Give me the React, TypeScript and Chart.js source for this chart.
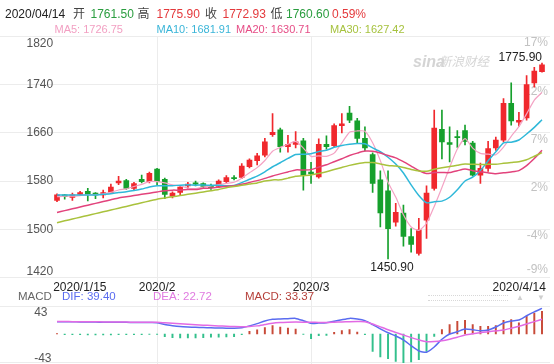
import React, { useEffect, useRef } from 'react';
import { Chart, registerables } from 'chart.js';

Chart.register(...registerables);

// ---- K-line data (COMEX gold, 2020/1/15 – 2020/4/14), index = trading day ----
const opens = [1548,1557,1553,1558,1563,1560,1557,1561,1577,1581,
  1568,1583,1579,1600,1583,1555,1561,1572,1577,1576,
  1573,1571,1579,1586,1586,1604,1614,1623,1657,1665,
  1637,1641,1647,1595,1587,1641,1639,1672,1693,1680,
  1651,1624,1582,1564,1512,1527,1488,1460,1515,1568,
  1666,1644,1654,1664,1643,1590,1601,1635,1648,1709,
  1678,1685,1743,1761.5];
const highs = [1559,1558,1560,1563,1568,1561,1565,1575,1588,1583,
  1578,1590,1595,1601,1585,1562,1572,1578,1580,1577,
  1575,1582,1589,1589,1609,1617,1626,1651,1692,1668,
  1656,1662,1651,1611,1650,1655,1675,1692,1704,1684,
  1670,1627,1597,1597,1543,1540,1501,1518,1572,1698,
  1698,1670,1664,1673,1646,1610,1646,1653,1717,1743,
  1694,1755,1769,1775.9];
const lows = [1546,1550,1548,1556,1547,1551,1552,1559,1574,1566,
  1565,1577,1577,1574,1551,1552,1557,1568,1572,1569,
  1566,1569,1577,1582,1584,1602,1607,1620,1654,1628,
  1628,1635,1565,1576,1585,1633,1637,1660,1677,1643,
  1630,1561,1504,1450.9,1505,1472,1462,1457,1485,1565,
  1617,1612,1636,1640,1588,1576,1596,1631,1645,1673,
  1671,1681,1736,1760.6];
const closes = [1557,1554,1557,1561,1558,1557,1561,1570,1580,1568,
  1576,1579,1593,1579,1558,1560,1570,1575,1575,1571,
  1569,1580,1586,1584,1605,1615,1622,1645,1661,1637,
  1641,1645,1590,1592,1641,1637,1672,1675,1681,1651,
  1635,1576,1527,1501,1528,1488,1475,1499,1560,1668,
  1645,1641,1652,1646,1590,1601,1634,1648,1709,1680,
  1681,1740,1762.5,1772.93];

// moving-average values before the full window is on screen
const ma5Head = [1554, 1555, 1555, 1556];
const ma10Head = [1557, 1557, 1557, 1557, 1557, 1557, 1558, 1559, 1561];
const ma20Head = [1528, 1531, 1534, 1537, 1540, 1543, 1546, 1549, 1552, 1554,
  1556, 1558, 1560, 1562, 1564, 1565, 1565, 1566, 1566];
const ma30Head = [1511, 1514, 1517, 1520, 1523, 1526, 1529, 1532, 1535, 1538,
  1541, 1544, 1547, 1550, 1552, 1554, 1556, 1558, 1560, 1562,
  1564, 1566, 1569, 1571, 1573, 1575, 1577, 1580, 1582];

// MACD panel
const dif = [18.9,18.8,18.7,18.6,18.4,18.3,18.2,18.1,18.0,17.9,
  17.8,17.7,17.6,17.4,14.5,12.8,11.5,10.8,10.3,10.0,
  9.6,9.2,8.9,8.7,9.6,12.5,16,20,22.5,23,
  23.5,24,20.5,16.4,16.8,17.4,19.5,22,24,23,
  20.5,14.5,8,2,-3,-9,-18,-26,-28,-20,
  -8,0,3.5,7.6,6.5,5,6,10.7,17,20,
  21.5,28,34,39.4];
const dea = [19.2,19.1,19.0,18.9,18.8,18.7,18.6,18.5,18.4,18.3,
  18.2,18.1,18.0,17.9,17.2,16.5,15.8,15.0,14.2,13.6,
  13.0,12.4,11.9,11.4,11.2,11.5,12.5,14.5,16.5,17.5,
  18,18.3,18.2,18,17.8,17.8,18.2,18.6,19,19.2,
  19,15.5,11,6.5,2.5,-1.5,-5.5,-9,-11.8,-11.5,
  -10.3,-8,-5,-1.5,0.5,2,3.6,4.8,6,9,
  12,15.5,19,22.72];
const macdBars = [0.5,-1,-1,-1.2,-1.5,-1.5,-1.5,-1.5,-1.2,-1.2,
  -1,-1,-0.8,-0.8,-4,-5.5,-6,-6,-6,-5.5,
  -5,-5,-4.5,-4,-1,4,6.5,10,12.8,10.8,
  9.2,7.7,-0.5,-7.2,-2.6,-2,2.6,5.1,6.7,3,
  -1,-26.6,-35,-38,-42,-44,-43,-39.5,-26.6,-3.6,
  6.7,14.3,19.5,21,14.3,11.8,11.8,12.8,21,22,
  17,27,32,35];

// ticks
const priceTicks = [1420, 1500, 1580, 1660, 1740, 1820];
const pctLabels = ['-9%', '-4%', '2%', '7%', '12%', '17%'];
const macdTicks = [43, -43];
const xTickIndex = [0, 13, 33, 63];
const xTickLabels = ['2020/1/15', '2020/2', '2020/3', '2020/4/14'];
const xGridIndex = [13, 33];

const RED = '#f0282d';
const GREEN = '#16a02c';
const FONT = '"Liberation Sans", Arial, "Noto Sans CJK SC", sans-serif';

function movingAverage(period: number, head: number[]): number[] {
  return closes.map((_, i) => {
    if (i < period - 1) return head[i];
    let s = 0;
    for (let k = i - period + 1; k <= i; k++) s += closes[k];
    return s / period;
  });
}

const labelPlugin = {
  id: 'sinaLabels',
  beforeDatasetsDraw(chart: any) {
    const { ctx, scales, chartArea } = chart;
    const x = scales.x, y = scales.y, y2 = scales.y2;
    ctx.save();
    ctx.font = `12px ${FONT}`;
    // left price labels
    const lx = x.getPixelForValue(-0.5);
    ctx.fillStyle = '#555';
    ctx.textAlign = 'right';
    ctx.textBaseline = 'middle';
    priceTicks.forEach((v, k) => {
      let py = y.getPixelForValue(v);
      if (k === priceTicks.length - 1) py += 7.5;
      else if (k === 0) py -= 5.5;
      ctx.fillText(String(v), lx, py);
    });
    // right percentage labels
    ctx.fillStyle = '#c2c2c2';
    const rx = chartArea.right - 2;
    pctLabels.forEach((t, k) => {
      let py = y.getPixelForValue(priceTicks[k]);
      py += k === 0 ? -7.5 : 6.5;
      ctx.fillText(t, rx, py);
    });
    // date labels
    ctx.fillStyle = '#222';
    ctx.textBaseline = 'alphabetic';
    const dy = y.getPixelForValue(priceTicks[0]) + 13.5;
    xTickIndex.forEach((iv, k) => {
      if (k === 0) {
        ctx.textAlign = 'left';
        ctx.fillText(xTickLabels[k], x.getPixelForValue(iv - 0.5), dy);
      } else if (k === xTickIndex.length - 1) {
        ctx.textAlign = 'right';
        ctx.fillText(xTickLabels[k], x.getPixelForValue(iv + 0.5), dy);
      } else {
        ctx.textAlign = 'center';
        ctx.fillText(xTickLabels[k], x.getPixelForValue(iv), dy);
      }
    });
    // MACD axis labels
    ctx.fillStyle = '#555';
    ctx.textAlign = 'left';
    macdTicks.forEach((v) => {
      const py = y2.getPixelForValue(v);
      ctx.fillText(String(v), lx - 19, v > 0 ? py + 9.5 : py - 0.5);
    });
    ctx.restore();
  },
  afterDatasetsDraw(chart: any) {
    const { ctx, scales } = chart;
    const x = scales.x, y = scales.y;
    let hi = 0, lo = 0;
    highs.forEach((v, i) => { if (v > highs[hi]) hi = i; });
    lows.forEach((v, i) => { if (v < lows[lo]) lo = i; });
    ctx.save();
    ctx.font = `12px ${FONT}`;
    ctx.fillStyle = '#222';
    ctx.textAlign = 'right';
    ctx.textBaseline = 'alphabetic';
    ctx.fillText(highs[hi].toFixed(2), x.getPixelForValue(hi), y.getPixelForValue(highs[hi]) - 2);
    ctx.textAlign = 'center';
    ctx.textBaseline = 'top';
    ctx.fillText(lows[lo].toFixed(2), x.getPixelForValue(lo) + 4, y.getPixelForValue(lows[lo]) + 3);
    ctx.restore();
  },
};

function T(props: { x: number; base: number; size: number; color: string; children: any; extra?: any }) {
  const top = props.base - (0.905 * props.size - (1.117 * props.size - props.size) / 2);
  return (
    <span
      style={{
        position: 'absolute', left: props.x, top, fontSize: props.size, lineHeight: `${props.size}px`,
        color: props.color, fontFamily: FONT, whiteSpace: 'pre', ...(props.extra || {}),
      }}
    >
      {props.children}
    </span>
  );
}

export default function App() {
  const ref = useRef<HTMLCanvasElement>(null);

  useEffect(() => {
    const idx = closes.map((_, i) => i);
    const candleColors = closes.map((c, i) => (c >= opens[i] ? RED : GREEN));
    const ma5 = movingAverage(5, ma5Head);
    const ma10 = movingAverage(10, ma10Head);
    const ma20 = movingAverage(20, ma20Head);
    const ma30 = movingAverage(30, ma30Head);
    const line = (vals: number[], color: string, width: number, axis: string) => ({
      type: 'line' as const,
      data: idx.map((i) => ({ x: i, y: vals[i] })),
      borderColor: color,
      borderWidth: width,
      pointRadius: 0,
      tension: 0.2,
      fill: false,
      yAxisID: axis,
      order: 0,
    });

    const chart = new Chart(ref.current as HTMLCanvasElement, {
      type: 'line',
      data: {
        datasets: [
          line(ma30, '#a9c23c', 1.5, 'y'),
          line(ma20, '#e2437c', 1.5, 'y'),
          line(ma10, '#2fb8d9', 1.5, 'y'),
          line(ma5, '#f4a3c4', 1.2, 'y'),
          {
            type: 'bar',
            data: idx.map((i) => ({ x: i, y: [opens[i], closes[i]] })),
            backgroundColor: candleColors,
            borderWidth: 0,
            barThickness: 5,
            minBarLength: 1,
            grouped: false,
            yAxisID: 'y',
            order: 1,
          } as any,
          {
            type: 'bar',
            data: idx.map((i) => ({ x: i, y: [lows[i], highs[i]] })),
            backgroundColor: candleColors,
            borderWidth: 0,
            barThickness: 1,
            grouped: false,
            yAxisID: 'y',
            order: 2,
          } as any,
          {
            type: 'bar',
            data: idx.map((i) => ({ x: i, y: macdBars[i] })),
            backgroundColor: macdBars.map((v) => (v >= 0 ? '#c84a38' : '#33c08c')),
            borderWidth: 0,
            barThickness: 1.3,
            grouped: false,
            yAxisID: 'y2',
            order: 3,
          } as any,
          line(dea, '#e26ae4', 1.5, 'y2'),
          line(dif, '#5a6cf0', 1.5, 'y2'),
        ],
      },
      options: {
        responsive: false,
        animation: false,
        events: [],
        layout: { padding: { top: 36.5, left: 0, right: 4, bottom: 0 } },
        plugins: { legend: { display: false }, tooltip: { enabled: false } },
        scales: {
          x: {
            type: 'linear', min: -7.404, max: 64.039, offset: false,
            ticks: { display: false },
            grid: { color: '#ececec', drawTicks: false, offset: false },
            border: { display: false },
            afterBuildTicks: (s: any) => { s.ticks = xGridIndex.map((v) => ({ value: v })); },
          },
          y: {
            type: 'linear', position: 'left', min: 1276.4, max: 1820,
            ticks: { display: false },
            grid: { color: '#ececec', drawTicks: false },
            border: { display: false },
            afterBuildTicks: (s: any) => { s.ticks = priceTicks.map((v) => ({ value: v })); },
          },
          y2: {
            type: 'linear', position: 'right', min: -46.05, max: 456.85,
            ticks: { display: false },
            grid: { color: '#ececec', drawTicks: false },
            border: { display: false },
            afterBuildTicks: (s: any) => { s.ticks = macdTicks.map((v) => ({ value: v })); },
          },
        },
      } as any,
      plugins: [labelPlugin],
    });
    return () => chart.destroy();
  }, []);

  const G = '#2a9d3f';
  const R = '#e4393c';
  const HS = 12;
  const LS = 11;
  return (
    <div style={{ position: 'fixed', left: 0, top: 0, width: 554, height: 364, background: '#fff', overflow: 'hidden' }}>
      <canvas ref={ref} width={554} height={364} style={{ position: 'absolute', left: 0, top: 0, width: 554, height: 364 }} />
      {/* header */}
      <T x={5} base={18.3} size={HS} color="#222">2020/04/14</T>
      <T x={73} base={18.3} size={HS} color="#444">开</T>
      <T x={90.5} base={18.3} size={HS} color={G}>1761.50</T>
      <T x={137.5} base={18.3} size={HS} color="#444">高</T>
      <T x={156.5} base={18.3} size={HS} color={R}>1775.90</T>
      <T x={205} base={18.3} size={HS} color="#444">收</T>
      <T x={222.5} base={18.3} size={HS} color={R}>1772.93</T>
      <T x={270.5} base={18.3} size={HS} color="#444">低</T>
      <T x={286} base={18.3} size={HS} color={G}>1760.60</T>
      <T x={332} base={18.3} size={HS} color={R}>0.59%</T>
      {/* MA legend */}
      <T x={54.5} base={33.3} size={LS} color="#f29fc2">MA5: 1726.75</T>
      <T x={156.5} base={33.3} size={LS} color="#3ab5d8">MA10: 1681.91</T>
      <T x={236} base={33.3} size={LS} color="#e64d86">MA20: 1630.71</T>
      <T x={330} base={33.3} size={LS} color="#a6c23e">MA30: 1627.42</T>
      {/* watermark */}
      <T x={413} base={68} size={16} color="#d4d4d4" extra={{ fontStyle: 'italic', fontWeight: 'bold' }}>sina</T>
      <T x={439} base={67} size={12.5} color="#d6d6d6" extra={{ fontStyle: 'italic' }}>新浪财经</T>
      {/* MACD legend */}
      <T x={18} base={300.7} size={11.5} color="#666">MACD</T>
      <T x={62} base={300.7} size={11.5} color="#5a6cf0">DIF: 39.40</T>
      <T x={153} base={300.7} size={11.5} color="#e07ae0">DEA: 22.72</T>
      <T x={245} base={300.7} size={11.5} color="#b5403a">MACD: 33.37</T>
      {/* scroll indicator */}
      <div style={{ position: 'absolute', left: 428, top: 295, width: 80, height: 4, borderTop: '1px dotted #d8d8d8', borderBottom: '1px dotted #d8d8d8' }} />
      <T x={516} base={301} size={8} color="#cfcfcf">▲</T>
      <T x={537} base={301} size={8} color="#cfcfcf">▼</T>
    </div>
  );
}
